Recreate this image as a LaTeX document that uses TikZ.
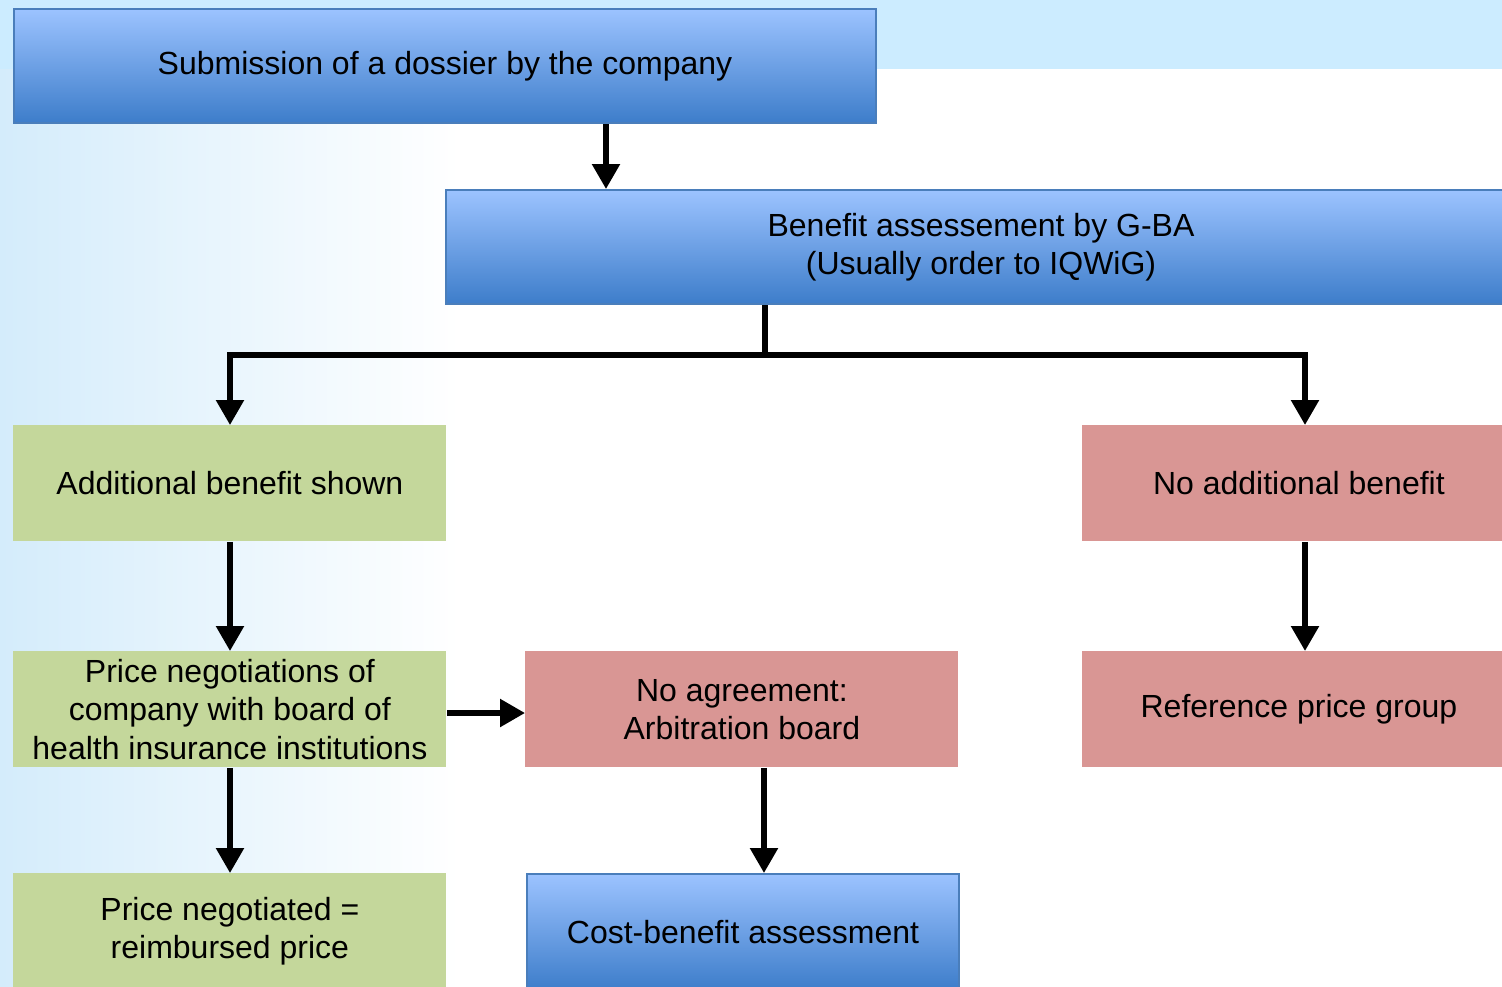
\documentclass[tikz,border=0pt]{standalone}
\usepackage{fontspec}
\setmainfont{Liberation Sans}
\usetikzlibrary{arrows.meta}
\definecolor{bandblue}{HTML}{CCECFF}
\definecolor{sideblue}{HTML}{D4ECFB}
\definecolor{boxtop}{HTML}{9CC3FF}
\definecolor{boxbot}{HTML}{3D7DCA}
\definecolor{boxline}{HTML}{4A7EBB}
\definecolor{greenbox}{HTML}{C4D79B}
\definecolor{redbox}{HTML}{D99694}
\tikzset{
  base/.style={anchor=north west, inner sep=0pt, align=center, font=\fontsize{16}{19.25}\selectfont, text=black},
  bluebox/.style={base, draw=boxline, line width=1pt, top color=boxtop, bottom color=boxbot},
  greenbox/.style={base, fill=greenbox},
  redbox/.style={base, fill=redbox},
  conn/.style={line width=2.75pt, draw=black},
  arr/.style={conn, -{Triangle[length=12.5pt,width=13.5pt]}},
}
\begin{document}
\begin{tikzpicture}[x=0.5pt,y=-0.5pt]
\useasboundingbox (0,0) rectangle (1502,986);
\clip (0,0) rectangle (1502,986);
\fill[white] (0,0) rectangle (1502,986);
\shade[left color=sideblue, right color=white] (0,69) rectangle (460,986);
\fill[bandblue] (0,0) rectangle (1502,69);

\node[bluebox, minimum width=431pt, minimum height=57pt] (sub) at (13,8) {Submission of a dossier by the company};
\node[bluebox, minimum width=535pt, minimum height=57pt] (ben) at (445,189) {Benefit assessement by G-BA\\(Usually order to IQWiG)};
\node[greenbox, minimum width=216.5pt, minimum height=58pt] (add) at (13,425) {Additional benefit shown};
\node[redbox, minimum width=216.5pt, minimum height=58pt] (noadd) at (1082,425) {No additional benefit};
\node[greenbox, minimum width=216.5pt, minimum height=58pt] (neg) at (13,651) {Price negotiations of\\company with board of\\health insurance institutions};
\node[redbox, minimum width=216.5pt, minimum height=58pt] (noagr) at (525,651) {No agreement:\\Arbitration board};
\node[redbox, minimum width=216.5pt, minimum height=58pt] (ref) at (1082,651) {Reference price group};
\node[greenbox, minimum width=216.5pt, minimum height=58pt] (negd) at (13,873) {Price negotiated =\\reimbursed price};
\node[bluebox, minimum width=216pt, minimum height=58pt] (cba) at (526,873) {Cost-benefit assessment};

\coordinate (j) at (765,355);
\draw[arr] (606,0 |- sub.south) -- (606,0 |- ben.north);
\draw[conn] (765,0 |- ben.south) -- (j);
\draw[arr] (j) -| (230,0 |- add.north);
\draw[arr] (j) -| (1305,0 |- noadd.north);
\draw[arr] (230,0 |- add.south) -- (230,0 |- neg.north);
\draw[arr] (230,0 |- neg.south) -- (230,0 |- negd.north);
\draw[arr] (neg.east |- 0,713) -- (noagr.west |- 0,713);
\draw[arr] (764,0 |- noagr.south) -- (764,0 |- cba.north);
\draw[arr] (1305,0 |- noadd.south) -- (1305,0 |- ref.north);
\end{tikzpicture}
\end{document}
